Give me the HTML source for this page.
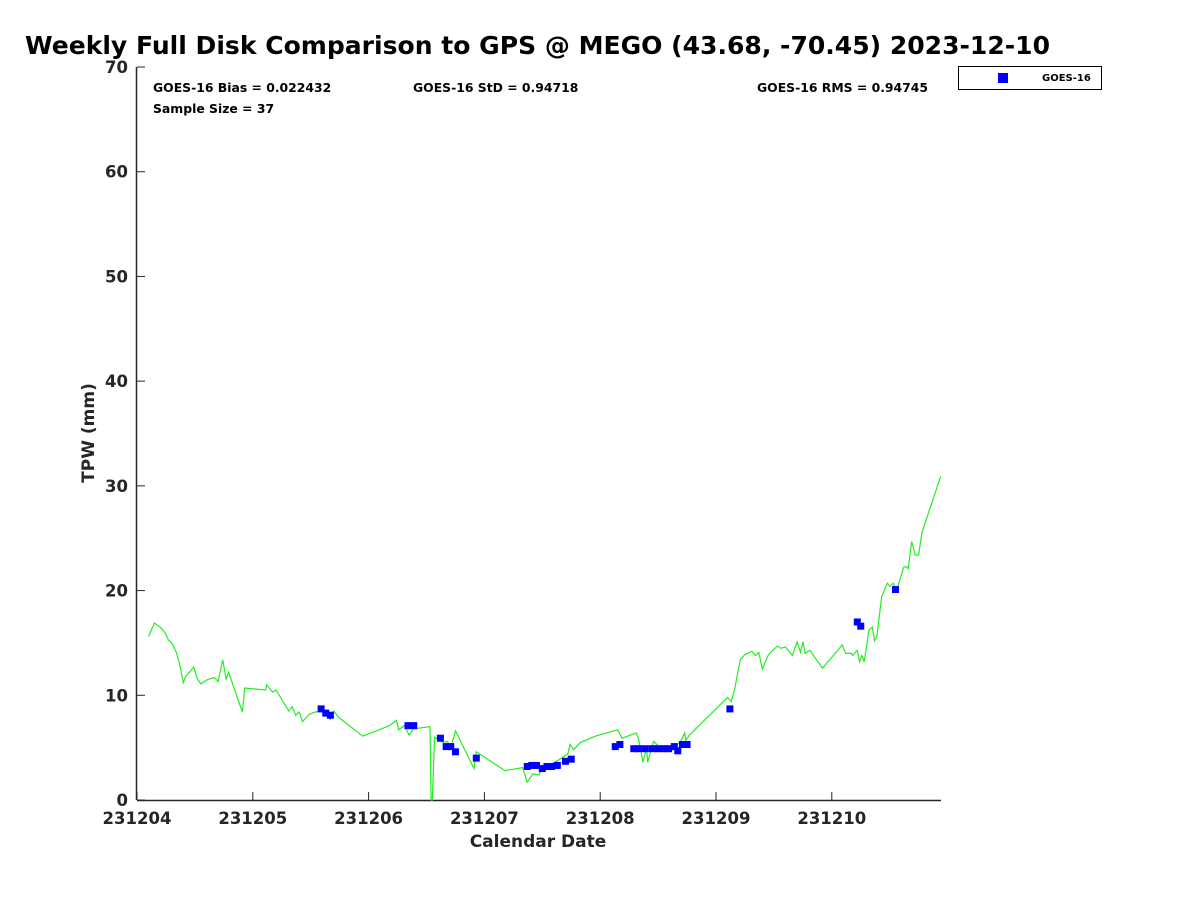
<!DOCTYPE html>
<html><head><meta charset="utf-8"><style>
body{margin:0;background:#fff;}
svg text{font-family:"DejaVu Sans","Liberation Sans",sans-serif;font-weight:bold;}
</style></head><body>
<svg id="chart" width="1200" height="900" viewBox="0 0 1200 900" xmlns="http://www.w3.org/2000/svg">
<rect width="1200" height="900" fill="#fff"/>
<text x="25" y="54" font-size="25" fill="#000" textLength="1025" lengthAdjust="spacingAndGlyphs">Weekly Full Disk Comparison to GPS @ MEGO (43.68, -70.45) 2023-12-10</text>
<g id="axes"></g>
<g id="series"></g>
<text x="153" y="92" font-size="12.4" fill="#000">GOES-16 Bias = 0.022432</text>
<text x="413" y="92" font-size="12.4" fill="#000">GOES-16 StD = 0.94718</text>
<text x="757" y="92" font-size="12.4" fill="#000">GOES-16 RMS = 0.94745</text>
<text x="153" y="113" font-size="12.4" fill="#000">Sample Size = 37</text>
<g>
<rect x="958.5" y="66.5" width="143" height="23" fill="#fff" stroke="#000" stroke-width="1"/>
<rect x="998" y="73" width="10" height="10" fill="#0000ff"/>
<text x="1042" y="81" font-size="10" fill="#000">GOES-16</text>
</g>
<text x="538" y="847" font-size="17" fill="#262626" text-anchor="middle">Calendar Date</text>
<text transform="translate(94,433) rotate(-90)" font-size="17" fill="#262626" text-anchor="middle">TPW (mm)</text>
</svg>
<script>
const xTickLabels=["231204","231205","231206","231207","231208","231209","231210"];
const yTickValues=[0,10,20,30,40,50,60,70];
const gpsDays=[0.10,0.15,0.20,0.24,0.27,0.30,0.34,0.37,0.40,0.42,0.46,0.49,0.52,0.55,0.61,0.67,0.70,0.74,0.77,0.79,0.91,0.93,1.11,1.12,1.17,1.20,1.31,1.34,1.37,1.40,1.43,1.49,1.54,1.60,1.67,1.70,1.74,1.95,2.18,2.24,2.26,2.31,2.35,2.39,2.53,2.54,2.55,2.57,2.64,2.68,2.71,2.75,2.91,2.93,3.18,3.33,3.37,3.42,3.47,3.50,3.61,3.72,3.74,3.77,3.83,3.96,4.15,4.19,4.31,4.33,4.37,4.40,4.41,4.46,4.52,4.63,4.69,4.73,4.74,4.77,5.10,5.13,5.16,5.21,5.25,5.31,5.34,5.37,5.40,5.45,5.48,5.53,5.56,5.60,5.66,5.70,5.73,5.75,5.77,5.81,5.92,6.09,6.12,6.17,6.18,6.22,6.24,6.26,6.28,6.32,6.35,6.37,6.39,6.43,6.48,6.50,6.53,6.56,6.62,6.64,6.66,6.69,6.72,6.75,6.78,6.94];
const gpsTpw=[15.6,16.9,16.5,16.0,15.3,15.0,14.1,12.9,11.2,11.8,12.3,12.7,11.6,11.1,11.5,11.7,11.3,13.4,11.5,12.2,8.4,10.7,10.5,11.0,10.3,10.5,8.5,8.9,8.1,8.4,7.5,8.2,8.4,8.5,7.7,8.5,7.9,6.1,7.1,7.6,6.7,7.1,6.2,6.8,7.0,0,0,6.0,5.5,5.6,5.0,6.6,3.0,4.6,2.8,3.1,1.7,2.5,2.4,3.1,3.6,4.4,5.3,4.8,5.5,6.1,6.7,5.9,6.4,5.9,3.6,5.0,3.6,5.6,5.0,5.1,5.5,6.4,5.7,6.2,9.8,9.4,10.5,13.4,13.9,14.2,13.8,14.1,12.5,13.8,14.2,14.7,14.5,14.6,13.8,15.1,14.1,15.1,14.0,14.3,12.6,14.8,14.0,14.0,13.8,14.3,13.2,13.8,13.2,16.2,16.5,15.2,15.7,19.4,20.7,20.4,20.7,20.0,22.2,22.3,22.1,24.7,23.4,23.4,25.6,30.9];
const goesDays=[1.59,1.63,1.67,2.34,2.39,2.62,2.67,2.71,2.75,2.93,3.37,3.41,3.45,3.50,3.54,3.58,3.63,3.70,3.75,4.13,4.17,4.29,4.33,4.39,4.45,4.50,4.55,4.59,4.64,4.67,4.71,4.75,5.12,6.22,6.25,6.55];
const goesTpw=[8.7,8.3,8.1,7.1,7.1,5.9,5.1,5.1,4.6,4.0,3.2,3.3,3.3,3.0,3.2,3.2,3.3,3.7,3.9,5.1,5.3,4.9,4.9,4.9,4.9,4.9,4.9,4.9,5.1,4.7,5.3,5.3,8.7,17.0,16.6,20.1];
const NS="http://www.w3.org/2000/svg";
const L=137,R=941,T=67,B=800,XMAX=(R-L)/115.8;
const xs=d=>L+d/XMAX*(R-L);
const ys=v=>B-v/70*(B-T);
function mk(tag,attrs,parent){const e=document.createElementNS(NS,tag);for(const k in attrs)e.setAttribute(k,attrs[k]);parent.appendChild(e);return e;}
const axes=document.getElementById('axes');
const ser=document.getElementById('series');
const xl=mk('line',{x1:L,y1:B+0.5,x2:R,y2:B+0.5,stroke:'#262626','stroke-width':1.5},axes);


const yl=mk('line',{x1:L-0.5,y1:T,x2:L-0.5,y2:B,stroke:'#262626','stroke-width':1.5},axes);


xTickLabels.forEach((lab,i)=>{const x=xs(i);
const t=mk('line',{x1:x,y1:B,x2:x,y2:B-8,stroke:'#262626','stroke-width':1},axes);


const tx=mk('text',{x:x,y:B+24,'font-size':16.5,fill:'#262626','text-anchor':'middle'},axes);tx.textContent=lab;

});
yTickValues.forEach(v=>{const y=ys(v);
const t=mk('line',{x1:L,y1:y,x2:L+8,y2:y,stroke:'#262626','stroke-width':1},axes);


const tx=mk('text',{x:L-9,y:y+6,'font-size':16.5,fill:'#262626','text-anchor':'end'},axes);tx.textContent=v;

});
const pts=gpsDays.map((d,i)=>xs(d).toFixed(1)+','+ys(gpsTpw[i]).toFixed(1)).join(' ');
const pl=mk('polyline',{points:pts,fill:'none',stroke:'#22ee22','stroke-width':1.2},ser);


goesDays.forEach((d,i)=>{const r=mk('rect',{x:xs(d)-3.5,y:ys(goesTpw[i])-3.5,width:7,height:7,fill:'#0000ff'},ser);

});
</script>
</body></html>
